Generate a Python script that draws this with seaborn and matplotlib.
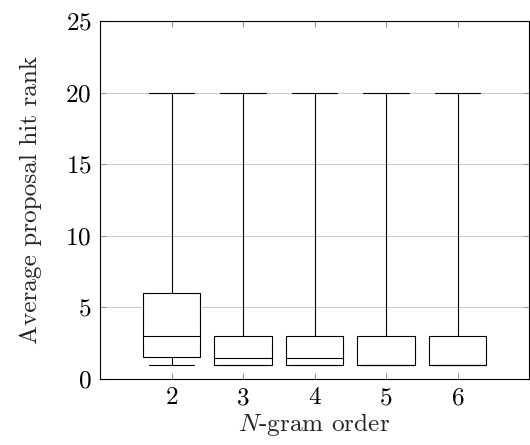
import numpy as np
import pandas as pd
import matplotlib
matplotlib.use("Agg")
import matplotlib.pyplot as plt
import seaborn as sns

# -----------------------------
# Box summary
# -----------------------------
orders = [2, 3, 4, 5, 6]
whisker_low = [1, 1, 1, 1, 1]
q1 = [1.56, 1, 1, 1, 1]
median = [3, 1.5, 1.5, 1, 1]
q3 = [6, 3, 3, 3, 3]
whisker_high = [20, 20, 20, 20, 20]

# five points per group reproduce min / quartiles / max exactly
rows = []
for i, n in enumerate(orders):
    for v in (whisker_low[i], q1[i], median[i], q3[i], whisker_high[i]):
        rows.append({"order": n, "rank": v})
df = pd.DataFrame(rows)

sns.set_theme(style="whitegrid")
plt.rcParams["font.family"] = "cmr10"
plt.rcParams["mathtext.fontset"] = "cm"
plt.rcParams["axes.formatter.use_mathtext"] = True

fig = plt.figure(figsize=(5.3, 4.45), dpi=100)
ax = fig.add_axes([100 / 530, 1 - 379 / 445, 429 / 530, 358 / 445])

sns.boxplot(data=df, x="order", y="rank", native_scale=True, whis=(0, 100),
            color="white", linecolor="black", linewidth=0.8, width=0.8,
            capwidths=0.64, showfliers=False, ax=ax)

fs = 18.2
ax.set_xlim(1, 7)
ax.set_ylim(0, 25)
ax.set_xticks(orders)
ax.set_yticks([0, 5, 10, 15, 20, 25])
ax.set_xlabel(r"$N$-gram order", fontsize=fs, labelpad=1)
ax.set_ylabel("Average proposal hit rank", fontsize=fs, labelpad=17)

ax.grid(axis="y", color="#cccccc", linewidth=0.8)
ax.grid(axis="x", visible=False)
ax.set_axisbelow(True)
for s in ax.spines.values():
    s.set_color("black")
    s.set_linewidth(0.8)
ax.tick_params(axis="both", direction="in", length=4, width=0.8, color="#999999",
               labelsize=fs, labelcolor="black", pad=6,
               left=True, right=True, bottom=True, top=True)

fig.savefig("out.png", dpi=100)
